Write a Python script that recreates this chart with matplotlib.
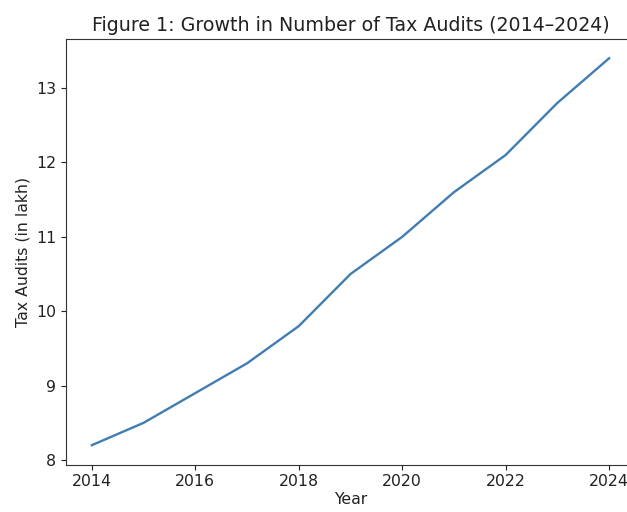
import matplotlib
matplotlib.use("Agg")
import matplotlib.pyplot as plt

# 数据
years = [2014, 2015, 2016, 2017, 2018, 2019, 2020, 2021, 2022, 2023, 2024]
audits = [8.2, 8.5, 8.9, 9.3, 9.8, 10.5, 11.0, 11.6, 12.1, 12.8, 13.4]

plt.rcParams["font.size"] = 11.3
plt.rcParams["text.color"] = "#222222"
plt.rcParams["axes.labelcolor"] = "#222222"
plt.rcParams["xtick.color"] = "#222222"
plt.rcParams["ytick.color"] = "#222222"
plt.rcParams["axes.edgecolor"] = "#333333"

fig = plt.figure(figsize=(6.27, 5.12), dpi=100)
ax = fig.add_axes([66 / 627, 1 - 464.5 / 512, 569 / 627, (464.5 - 38.9) / 512])

ax.plot(years, audits, color="#3f7db3", linewidth=1.7)
ax.set_title("Figure 1: Growth in Number of Tax Audits (2014–2024)", fontsize=13.7, pad=6)
ax.set_xlabel("Year", labelpad=2)
ax.set_ylabel("Tax Audits (in lakh)")

fig.savefig("out.png", dpi=100)
